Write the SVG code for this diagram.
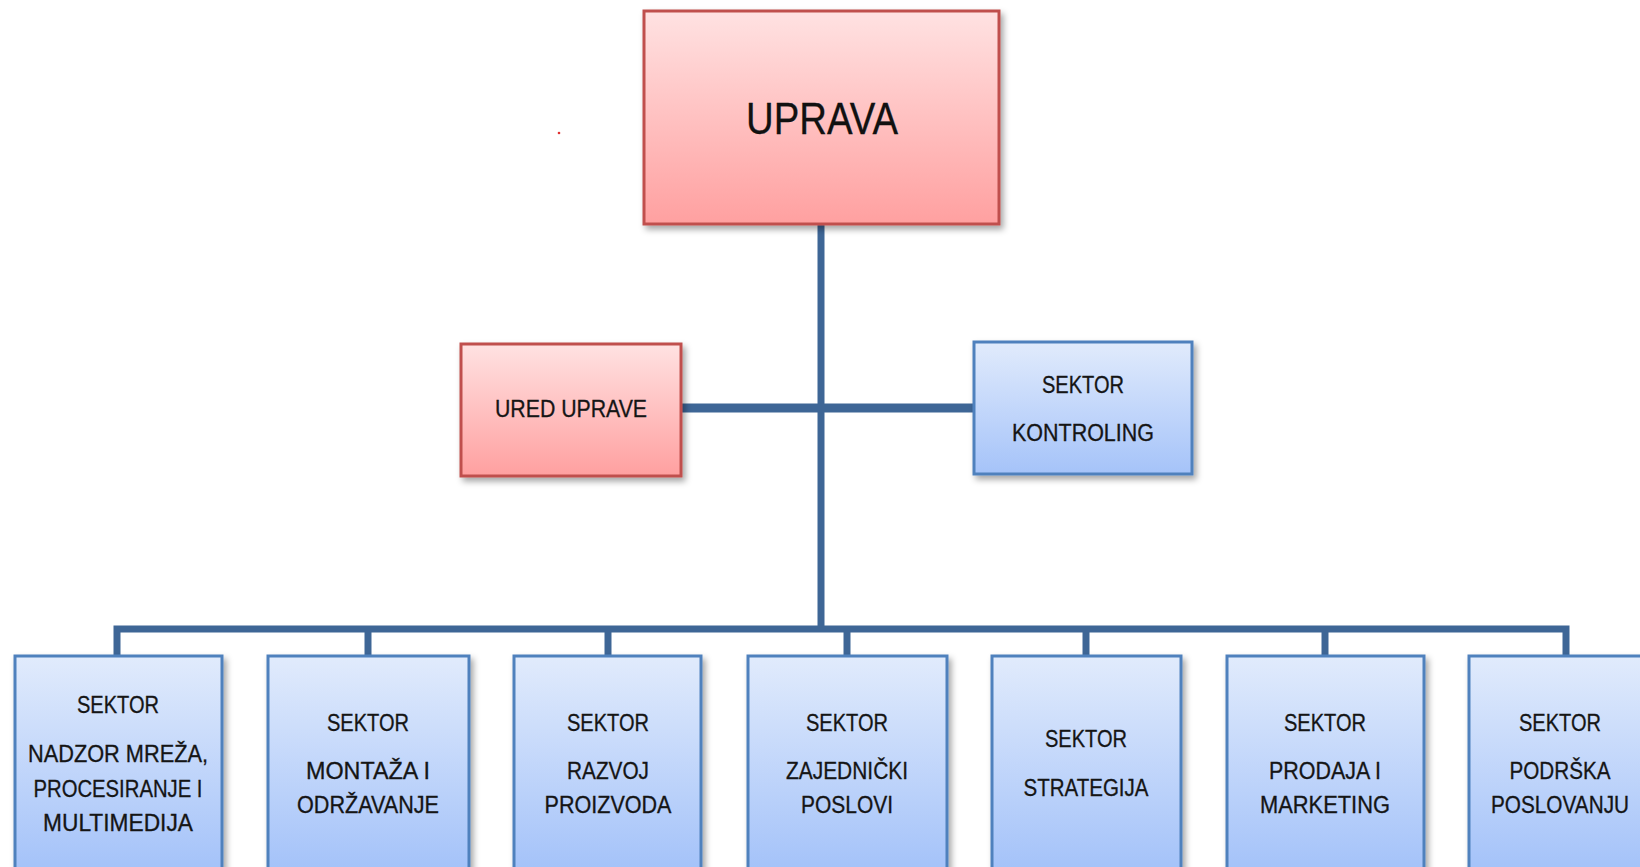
<svg xmlns="http://www.w3.org/2000/svg" width="1640" height="867" viewBox="0 0 1640 867">
<defs>
<linearGradient id="gRed" x1="0" y1="0" x2="0" y2="1">
<stop offset="0" stop-color="#FFE2E2"/>
<stop offset="1" stop-color="#FFA0A0"/>
</linearGradient>
<linearGradient id="gBlue" x1="0" y1="0" x2="0" y2="1">
<stop offset="0" stop-color="#E1EBFC"/>
<stop offset="1" stop-color="#A5C3F9"/>
</linearGradient>
<linearGradient id="gBlueTall" gradientUnits="userSpaceOnUse" x1="0" y1="656" x2="0" y2="867">
<stop offset="0" stop-color="#E1EBFC"/>
<stop offset="1" stop-color="#A5C3F9"/>
</linearGradient>
<filter id="sh" x="-10%" y="-10%" width="130%" height="130%">
<feDropShadow dx="3" dy="4" stdDeviation="3" flood-color="#000" flood-opacity="0.35"/>
</filter>
</defs>
<style>
.red{fill:url(#gRed);stroke:#C0504D;stroke-width:3;filter:url(#sh)}
.blue{fill:url(#gBlue);stroke:#4F81BD;stroke-width:3;filter:url(#sh)}
.blueT{fill:url(#gBlueTall);stroke:#4F81BD;stroke-width:3;filter:url(#sh)}
.t{font-family:"Liberation Sans",Arial,sans-serif;font-size:23px;fill:#151515;stroke:#151515;stroke-width:0.3;text-anchor:middle}
.big{font-family:"Liberation Sans",Arial,sans-serif;font-size:44px;fill:#111;stroke:#111;stroke-width:0.3;text-anchor:middle}
.c{stroke:#3E6696;fill:none;stroke-linecap:butt}
</style>
<rect width="1640" height="867" fill="#fff"/>
<g id="connectors">
<line class="c" x1="821" y1="224" x2="821" y2="632" stroke-width="7"/>
<line class="c" x1="681" y1="408" x2="974" y2="408" stroke-width="9"/>
<polyline class="c" points="117,656 117,629 1566,629 1566,656" stroke-width="7"/>
<line class="c" x1="368" y1="629" x2="368" y2="656" stroke-width="7"/>
<line class="c" x1="608" y1="629" x2="608" y2="656" stroke-width="7"/>
<line class="c" x1="847" y1="629" x2="847" y2="656" stroke-width="7"/>
<line class="c" x1="1086" y1="629" x2="1086" y2="656" stroke-width="7"/>
<line class="c" x1="1325" y1="629" x2="1325" y2="656" stroke-width="7"/>
</g>
<g id="uprava">
<rect class="red" x="644" y="11" width="355" height="213"/>
<text class="big" x="822" y="134" textLength="152" lengthAdjust="spacingAndGlyphs">UPRAVA</text>
</g>
<circle cx="559" cy="133" r="1.3" fill="#E03030"/>
<g id="ured-uprave">
<rect class="red" x="461" y="344" width="220" height="132"/>
<text class="t" x="571" y="417" textLength="152" lengthAdjust="spacingAndGlyphs">URED UPRAVE</text>
</g>
<g id="sektor-kontroling">
<rect class="blue" x="974" y="342" width="218" height="132"/>
<text class="t" x="1083" y="393" textLength="82" lengthAdjust="spacingAndGlyphs">SEKTOR</text>
<text class="t" x="1083" y="441" textLength="142" lengthAdjust="spacingAndGlyphs">KONTROLING</text>
</g>
<g id="sektor-nadzor">
<rect class="blueT" x="15" y="656" width="207" height="240"/>
<text class="t" x="118" y="713" textLength="82" lengthAdjust="spacingAndGlyphs">SEKTOR</text>
<text class="t" x="118" y="762" textLength="180" lengthAdjust="spacingAndGlyphs">NADZOR MREŽA,</text>
<text class="t" x="118" y="797" textLength="169" lengthAdjust="spacingAndGlyphs">PROCESIRANJE I</text>
<text class="t" x="118" y="831" textLength="150" lengthAdjust="spacingAndGlyphs">MULTIMEDIJA</text>
</g>
<g id="sektor-montaza">
<rect class="blueT" x="268" y="656" width="201" height="240"/>
<text class="t" x="368" y="731" textLength="82" lengthAdjust="spacingAndGlyphs">SEKTOR</text>
<text class="t" x="368" y="779" textLength="124" lengthAdjust="spacingAndGlyphs">MONTAŽA I</text>
<text class="t" x="368" y="813" textLength="142" lengthAdjust="spacingAndGlyphs">ODRŽAVANJE</text>
</g>
<g id="sektor-razvoj">
<rect class="blueT" x="514" y="656" width="187" height="240"/>
<text class="t" x="608" y="731" textLength="82" lengthAdjust="spacingAndGlyphs">SEKTOR</text>
<text class="t" x="608" y="779" textLength="82" lengthAdjust="spacingAndGlyphs">RAZVOJ</text>
<text class="t" x="608" y="813" textLength="127" lengthAdjust="spacingAndGlyphs">PROIZVODA</text>
</g>
<g id="sektor-zajednicki">
<rect class="blueT" x="748" y="656" width="199" height="240"/>
<text class="t" x="847" y="731" textLength="82" lengthAdjust="spacingAndGlyphs">SEKTOR</text>
<text class="t" x="847" y="779" textLength="122" lengthAdjust="spacingAndGlyphs">ZAJEDNIČKI</text>
<text class="t" x="847" y="813" textLength="92" lengthAdjust="spacingAndGlyphs">POSLOVI</text>
</g>
<g id="sektor-strategija">
<rect class="blueT" x="992" y="656" width="189" height="240"/>
<text class="t" x="1086" y="747" textLength="82" lengthAdjust="spacingAndGlyphs">SEKTOR</text>
<text class="t" x="1086" y="796" textLength="125" lengthAdjust="spacingAndGlyphs">STRATEGIJA</text>
</g>
<g id="sektor-prodaja">
<rect class="blueT" x="1227" y="656" width="197" height="240"/>
<text class="t" x="1325" y="731" textLength="82" lengthAdjust="spacingAndGlyphs">SEKTOR</text>
<text class="t" x="1325" y="779" textLength="112" lengthAdjust="spacingAndGlyphs">PRODAJA I</text>
<text class="t" x="1325" y="813" textLength="130" lengthAdjust="spacingAndGlyphs">MARKETING</text>
</g>
<g id="sektor-podrska">
<rect class="blueT" x="1469" y="656" width="200" height="240"/>
<text class="t" x="1560" y="731" textLength="82" lengthAdjust="spacingAndGlyphs">SEKTOR</text>
<text class="t" x="1560" y="779" textLength="101" lengthAdjust="spacingAndGlyphs">PODRŠKA</text>
<text class="t" x="1560" y="813" textLength="138" lengthAdjust="spacingAndGlyphs">POSLOVANJU</text>
</g>
</svg>
